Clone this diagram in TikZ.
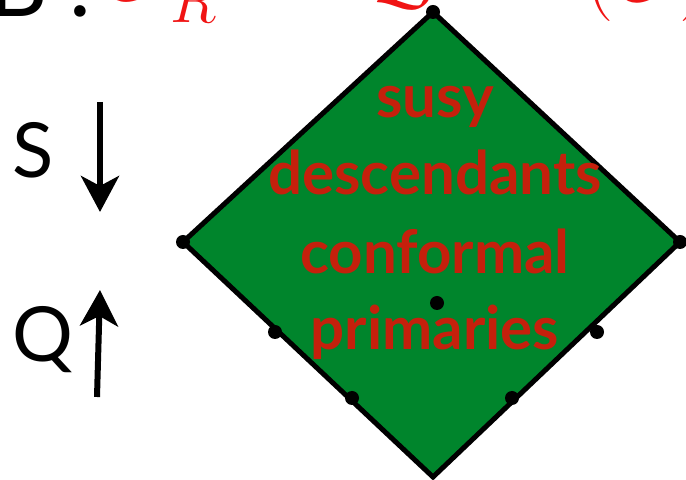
\documentclass[tikz,border=0pt]{standalone}
\usepackage{fix-cm}
\usepackage{fontspec}
\setmainfont{Lato}
\usetikzlibrary{arrows.meta}
\definecolor{multgreen}{RGB}{0,133,44}
\definecolor{labelred}{RGB}{197,32,12}
\definecolor{formred}{RGB}{240,20,20}
\tikzset{
  dot/.style={circle,fill=black,inner sep=0pt,minimum size=7pt},
  label/.style={text=labelred,font=\fontsize{30}{32}\selectfont\bfseries,anchor=base,inner sep=0pt},
  opname/.style={font=\fontsize{38}{40}\selectfont,anchor=base west,inner sep=0pt},
  formula/.style={text=formred,font=\fontsize{40}{46}\selectfont,anchor=base west,inner sep=0pt},
  move/.style={line width=3pt,-{Stealth[length=18pt,width=19pt,inset=5pt]}}
}
\begin{document}
\begin{tikzpicture}[x=0.5pt,y=-0.5pt]
    \useasboundingbox (0,0) rectangle (686,480);
    \clip (0,0) rectangle (686,480);
    % heading, cut off at the top
    \node[opname,font=\fontsize{46}{48}\selectfont] (head) at (-12,17) {B\kern11pt.};
    \node[formula,font=\fontsize{44}{50}\selectfont] (opR) at (100,1) {$\mathcal{O}_{\lower4pt\hbox{$\scriptstyle R$}}$};
    \node[formula] (opQ) at (366,1) {$\mathcal{Q}$};
    \node[formula] (opO) at (585,2) {$(\mathcal{O})$};
    % the multiplet
    \coordinate (top) at (433,12);
    \coordinate (left) at (183,242);
    \coordinate (right) at (680,242);
    \coordinate (bottom) at (433,477);
    \draw[line width=2.5pt,fill=multgreen,line join=miter] (top) -- (right) -- (bottom) -- (left) -- cycle;
    \node[dot] (dtop) at (top) {};
    \node[dot] (dleft) at (left) {};
    \node[dot] (dright) at (right) {};
    \node[dot] (dmid) at (437,303) {};
    \node[dot] (dl1) at (275,332) {};
    \node[dot] (dl2) at (352,398) {};
    \node[dot] (dr1) at (597,332) {};
    \node[dot] (dr2) at (512,398) {};
    \node[label] (susy) at (435,118) {susy};
    \node[label] (desc) at (435,195) {descendants};
    \node[label] (conf) at (435,274) {conformal};
    \node[label] (prim) at (435,350) {primaries};
    % supercharges
    \node[opname] (S) at (12,178) {S};
    \node[opname] (Q) at (12,362) {Q};
    \coordinate (s1) at (100,102);
    \coordinate (s2) at (100,212);
    \coordinate (q1) at (97,397);
    \coordinate (q2) at (100,290);
    \draw[move] (s1) -- (s2);
    \draw[move] (q1) -- (q2);
\end{tikzpicture}
\end{document}
